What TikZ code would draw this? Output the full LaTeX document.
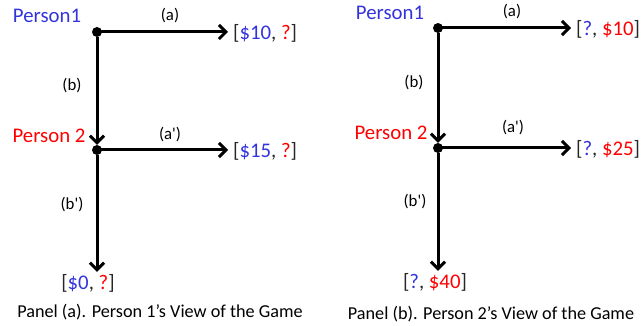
\documentclass[tikz,border=0pt]{standalone}
\usepackage{fontspec}
\setmainfont{Carlito}
\usetikzlibrary{arrows.meta}
\definecolor{pblue}{RGB}{51,51,221}
\definecolor{pred}{RGB}{255,0,0}
\definecolor{brk}{RGB}{38,38,38}
\tikzset{
  decnode/.style={circle, fill=black, inner sep=0pt, minimum size=10pt},
  move/.style={line width=3pt, -{Straight Barb[length=7pt,width=14pt]}},
  player/.style={font=\fontsize{20.8}{25}\selectfont, inner sep=0pt},
  payoff/.style={font=\fontsize{20.8}{25}\selectfont, text=brk, inner sep=5pt},
  act/.style={font=\fontsize{16.8}{20}\selectfont, inner sep=0pt},
  caption/.style={font=\fontsize{18.2}{22}\selectfont, inner sep=0pt}
}
\newcommand{\bl}[1]{\textcolor{pblue}{#1}}
\newcommand{\rd}[1]{\textcolor{pred}{#1}}
\begin{document}
\begin{tikzpicture}[x=1pt, y=-1pt]
  \useasboundingbox (0,0) rectangle (641,326);

  % ---------- Panel (a): Person 1's view ----------
  \node[decnode] (r1) at (97,32) {};
  \node[decnode] (m1) at (97,150) {};
  \node[player, text=pblue] (p1a) at (47,16) {Person1};
  \node[player, text=pred] (p2a) at (49,136) {Person 2};
  \node[payoff, anchor=west] (pa1) at (228,33) {[\bl{\$10}, \rd{?}]};
  \node[payoff, anchor=west] (pb1) at (228,151) {[\bl{\$15}, \rd{?}]};
  \node[payoff, inner sep=2pt] (pc1) at (88,283) {[\bl{\$0}, \rd{?}]};

  \draw[move] (r1.center) -- (r1 -| pa1.west);
  \draw[move] (r1) -- (m1);
  \draw[move] (m1.center) -- (m1 -| pb1.west);
  \draw[move] (m1) -- (m1 |- pc1.north);

  \node[act] (la1) at (170,16) {(a)};
  \node[act] (lb1) at (72,86) {(b)};
  \node[act] (lc1) at (170,135) {(a\textquotesingle)};
  \node[act] (ld1) at (72,205) {(b\textquotesingle)};
  \node[caption] (cap1) at (160,312) {Panel (a). Person 1’s View of the Game};

  % ---------- Panel (b): Person 2's view ----------
  \node[decnode] (r2) at (438,28) {};
  \node[decnode] (m2) at (438,148) {};
  \node[player, text=pblue] (p1b) at (390,13) {Person1};
  \node[player, text=pred] (p2b) at (391,133) {Person 2};
  \node[payoff, anchor=west] (pa2) at (571,29) {[\bl{?}, \rd{\$10}]};
  \node[payoff, anchor=west] (pb2) at (571,149) {[\bl{?}, \rd{\$25}]};
  \node[payoff, inner sep=2pt] (pc2) at (435,282) {[\bl{?}, \rd{\$40}]};

  \draw[move] (r2.center) -- (r2 -| pa2.west);
  \draw[move] (r2) -- (m2);
  \draw[move] (m2.center) -- (m2 -| pb2.west);
  \draw[move] (m2) -- (m2 |- pc2.north);

  \node[act] (la2) at (512,12) {(a)};
  \node[act] (lb2) at (414,83) {(b)};
  \node[act] (lc2) at (513,128) {(a\textquotesingle)};
  \node[act] (ld2) at (415,202) {(b\textquotesingle)};
  \node[caption] (cap2) at (491,314) {Panel (b). Person 2’s View of the Game};
\end{tikzpicture}
\end{document}
